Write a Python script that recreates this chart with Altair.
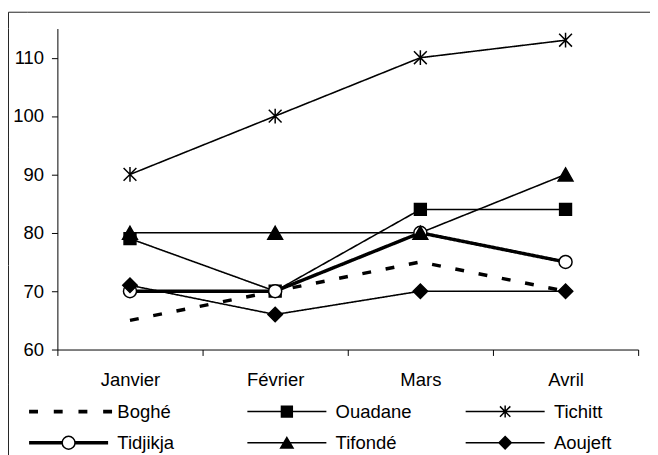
import altair as alt
import pandas as pd

months = ["Janvier", "Février", "Mars", "Avril"]
series = ["Boghé", "Ouadane", "Tichitt", "Tidjikja", "Tifondé", "Aoujeft"]
boghe = [65, 70, 75, 70]
ouadane = [79, 70, 84, 84]
tichitt = [90, 100, 110, 113]
tidjikja = [70, 70, 80, 75]
tifonde = [80, 80, 80, 90]
aoujeft = [71, 66, 70, 70]
y_ticks = [60, 70, 80, 90, 100, 110]

values = [boghe, ouadane, tichitt, tidjikja, tifonde, aoujeft]
line_widths = [3.5, 1.6, 1.6, 3.5, 1.6, 1.6]

rows = []
for s, vals, w in zip(series, values, line_widths):
    for m, v in zip(months, vals):
        rows.append({"month": m, "v": v, "series": s, "sw": w})
df = pd.DataFrame(rows)

FONT = "Liberation Sans"
FS = 18.7

def circle(cx, r):
    return (f"M{cx + r:.3f},0A{r},{r},0,1,1,{cx - r:.3f},0"
            f"A{r},{r},0,1,1,{cx + r:.3f},0Z")

def square(cx, h):
    return f"M{cx - h:.3f},{-h}H{cx + h:.3f}V{h}H{cx - h:.3f}Z"

def triangle(cx, w, h):
    return f"M{cx:.3f},{-h}L{cx + w:.3f},{h}L{cx - w:.3f},{h}Z"

def diamond(cx, r):
    return f"M{cx:.3f},{-r}L{cx + r:.3f},0L{cx:.3f},{r}L{cx - r:.3f},0Z"

def star(cx, r):
    return (f"M{cx - r:.3f},{-r}L{cx + r:.3f},{r}M{cx - r:.3f},{r}L{cx + r:.3f},{-r}"
            f"M{cx:.3f},{-r * 1.15:.3f}V{r * 1.15:.3f}")

# chart markers (size 144 -> 6 px per unit)
marker_shapes = [
    "circle",
    square(0, 1.0),
    star(0, 1.08),
    circle(0, 1.1),
    triangle(0, 1.25, 1.1),
    diamond(0, 1.22),
]
marker_fill = ["black", "black", "black", "white", "black", "black"]

# legend symbols (size 100 -> 5 px per unit): line + marker
L, R, C = -14.8, 1.2, -6.8
line = f"M{L},0H{R}"
dashes = "".join(
    f"M{L + 5 * k + 0.15:.2f},-0.22H{L + 5 * k + 1.65:.2f}V0.22H{L + 5 * k + 0.15:.2f}Z"
    for k in range(4)
)
rc = 1.3
thick = "".join(
    f"M{L},{dy}H{C - rc:.2f}M{C + rc:.2f},{dy}H{R}" for dy in (-0.2, 0, 0.2)
)
legend_shapes = [
    dashes,
    line + square(C, 1.1),
    line + star(C, 1.05),
    thick + circle(C, rc),
    line + triangle(C, 1.25, 1.05),
    line + diamond(C, 1.25),
]

x_enc = alt.X(
    "month:N",
    sort=months,
    title=None,
    scale=alt.Scale(type="band", paddingInner=0, paddingOuter=0),
    axis=alt.Axis(
        tickBand="extent", labelFont=FONT, labelFontSize=FS, labelColor="black",
        domainColor="black", tickColor="black", tickSize=6, labelPadding=15,
        labelAngle=0, grid=False,
    ),
)
y_enc = alt.Y(
    "v:Q",
    title=None,
    scale=alt.Scale(domain=[60, 115], nice=False, zero=False),
    axis=alt.Axis(
        values=y_ticks, labelFont=FONT, labelFontSize=FS, labelColor="black",
        domainColor="black", tickColor="black", tickSize=6, labelPadding=8,
        grid=False,
    ),
)

base = alt.Chart(df)

lines = base.mark_line(color="black", strokeCap="butt").encode(
    x=x_enc,
    y=y_enc,
    detail="series:N",
    strokeDash=alt.StrokeDash(
        "series:N",
        scale=alt.Scale(domain=series, range=[[9, 15], [1, 0], [1, 0], [1, 0], [1, 0], [1, 0]]),
        legend=None,
    ),
    strokeWidth=alt.StrokeWidth("sw:Q", scale=None),
)

points = base.transform_filter("datum.series != 'Boghé'").mark_point(
    filled=True, size=144, stroke="black", strokeWidth=1.5, opacity=1
).encode(
    x=x_enc,
    y=y_enc,
    shape=alt.Shape("series:N", scale=alt.Scale(domain=series, range=marker_shapes), legend=None),
    fill=alt.Fill("series:N", scale=alt.Scale(domain=series, range=marker_fill), legend=None),
)

leg = alt.Legend(
    orient="none", legendX=36, legendY=378, columns=3, direction="horizontal",
    title=None, labelFont=FONT, labelFontSize=FS, labelColor="black",
    symbolSize=100, symbolStrokeWidth=1.5, symbolStrokeColor="black",
    symbolOffset=0, labelOffset=6, gridAlign="all", columnPadding=51,
    rowPadding=11, padding=0, labelLimit=200,
)

legend_layer = base.transform_filter("datum.v < 0").mark_point(
    filled=True, size=100, stroke="black", strokeWidth=1.5, opacity=1
).encode(
    x=x_enc,
    y=y_enc,
    shape=alt.Shape("series:N", scale=alt.Scale(domain=series, range=legend_shapes), legend=leg),
    fill=alt.Fill("series:N", scale=alt.Scale(domain=series, range=marker_fill), legend=leg),
    stroke=alt.Stroke("series:N", scale=alt.Scale(domain=series, range=["black"] * 6), legend=leg),
)

# outer chart frame (top and left edges), drawn in short pieces
frame_src = alt.Chart(alt.Data(values=[{"k": 0}]))
frame = []
for a, b in [(-16.5, 0), (0, 120), (120, 240), (240, 360), (360, 440)]:
    frame.append(frame_src.mark_rule(color="#222222", strokeWidth=1).encode(
        x=alt.value(-49.5), y=alt.value(a), y2=alt.value(b)
    ))
for a, b in [(-49.5, -30), (-30, 600)]:
    frame.append(frame_src.mark_rule(color="#222222", strokeWidth=1).encode(
        x=alt.value(a), x2=alt.value(b), y=alt.value(-16.5)
    ))

chart = alt.layer(*frame, lines, points, legend_layer).resolve_scale(
    shape="independent", fill="independent", stroke="independent", strokeDash="independent"
).properties(
    width=588, height=325,
    padding={"left": 50, "top": 18, "right": 12, "bottom": 104},
    autosize=alt.AutoSizeParams(type="none"),
).configure_view(stroke=None)

chart.save("out.html", embed_options={"renderer": "svg", "actions": False})
